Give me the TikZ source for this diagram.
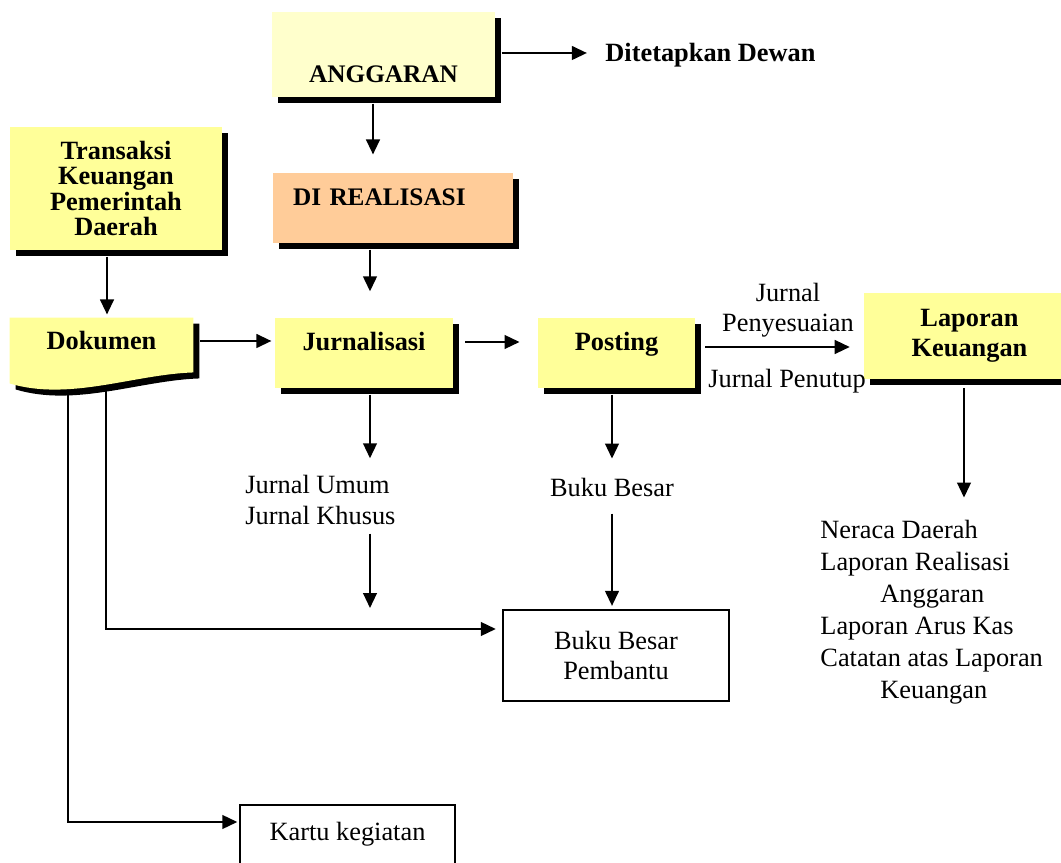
\documentclass[tikz,border=0pt]{standalone}
\usepackage{fontspec}
\setmainfont{Liberation Serif}
\usepackage{tikz}
\usetikzlibrary{arrows.meta, shadows, backgrounds}

\definecolor{boxyellow}{HTML}{FFFF99}
\definecolor{paleyellow}{HTML}{FFFFCC}
\definecolor{peach}{HTML}{FFCC99}

\begin{document}
\begin{tikzpicture}[
    x=0.016cm, y=-0.016cm,
    every node/.style={font=\fontsize{12}{13.8}\selectfont},
    box/.style={
        fill=boxyellow,
        align=center,
        inner sep=0pt,
        font=\fontsize{12}{13.8}\selectfont\bfseries,
        drop shadow={shadow xshift=0.096cm, shadow yshift=-0.096cm, fill=black, opacity=1}
    },
    plainbox/.style={
        draw=black,
        line width=0.8pt,
        fill=white,
        align=center,
        inner sep=0pt
    },
    note/.style={
        inner sep=0pt,
        align=left
    },
    lifted/.style={
        text height=0.3cm,
        text depth=#1
    },
    arrow/.style={
        -{Triangle[length=0.24cm, width=0.22cm]},
        line width=0.9pt
    }
]
\path[use as bounding box, clip] (0,0) rectangle (1061,863);

% Nodes
\node[box, fill=paleyellow, minimum width=3.57cm, minimum height=1.36cm,
      font=\fontsize{11.5}{13}\selectfont\bfseries,
      text height=0.91cm, text depth=0pt] (anggaran) at (383.5,54.5) {ANGGARAN};
\node[note, anchor=west, font=\fontsize{12}{13.8}\selectfont\bfseries] (dewan) at (605,55) {Ditetapkan Dewan};
\node[box, fill=peach, minimum width=3.84cm, minimum height=1.12cm,
      font=\fontsize{11.5}{13}\selectfont\bfseries,
      text width=3.2cm, align=left, lifted=0.37cm] (realisasi) at (393,208) {DI REALISASI};
\node[box, minimum width=3.39cm, minimum height=1.97cm,
      font=\fontsize{12}{11.5}\selectfont\bfseries] (transaksi) at (116,188.5) {Transaksi\\Keuangan\\Pemerintah\\Daerah};
\node[note, align=center, minimum width=2.93cm, minimum height=0.864cm,
      font=\fontsize{12}{13.8}\selectfont\bfseries, lifted=0.17cm] (dokumen) at (101.5,345) {Dokumen};
\node[box, minimum width=2.85cm, minimum height=1.12cm, lifted=0.37cm] (jurnalisasi) at (364,353) {Jurnalisasi};
\node[box, minimum width=2.51cm, minimum height=1.12cm, lifted=0.37cm] (posting) at (616.5,353) {Posting};
\node[box, minimum width=3.38cm, minimum height=1.38cm,
      font=\fontsize{12}{13.5}\selectfont\bfseries] (laporan) at (969.5,336) {Laporan\\Keuangan};

\node[note, align=center] (penyesuaian) at (788,310) {Jurnal\\Penyesuaian};
\node[note] (penutup) at (787,381) {Jurnal Penutup};
\node[note, anchor=west] (jurnalumum) at (245,500) {Jurnal Umum\\Jurnal Khusus};
\node[note] (bukubesar) at (612,487) {Buku Besar};
\node[note, anchor=west, font=\fontsize{12}{14.6}\selectfont] (laporanlist) at (820,612)
    {Neraca Daerah\\Laporan Realisasi\\\hspace*{0.96cm}Anggaran\\Laporan Arus Kas\\Catatan atas Laporan\\\hspace*{0.96cm}Keuangan};

\node[plainbox, minimum width=3.62cm, minimum height=1.46cm] (pembantu) at (616,655.5) {Buku Besar\\Pembantu};
\node[plainbox, minimum width=3.44cm, minimum height=1.04cm, lifted=0.2cm] (kartu) at (347.5,837.5) {Kartu kegiatan};
\coordinate (umumend) at (370,608);

% Dokumen shape and its two lines
\begin{scope}[on background layer]
\draw[arrow, shorten >=0.1cm] (106,0 |- dokumen.south) |- ([shift={(0,-26.5)}]pembantu.west);
\draw[arrow, shorten >=0.03cm] (68,0 |- dokumen.south) |- ([shift={(0,-15.5)}]kartu.west);
\fill[black] ([shift={(6,6)}]dokumen.north west) -- ([shift={(6,6)}]dokumen.north east)
    -- ([shift={(6,6)}]dokumen.south east) .. controls +(-60,2) and +(60,18) .. ([shift={(6,17)}]dokumen.south west) -- cycle;
\fill[boxyellow] (dokumen.north west) -- (dokumen.north east)
    -- (dokumen.south east) .. controls +(-60,2) and +(60,18) .. ([shift={(0,11)}]dokumen.south west) -- cycle;
\end{scope}

% Paths
\draw[arrow, shorten <=0.1cm, shorten >=0.29cm] (anggaran.east |- 0,53) -- (dewan.west |- 0,53);
\draw[arrow, shorten <=0.1cm, shorten >=0.29cm] (373,0 |- anggaran.south) -- (373,0 |- realisasi.north);
\draw[arrow, shorten <=0.1cm, shorten >=0.42cm] (370,0 |- realisasi.south) -- (370,0 |- jurnalisasi.north);
\draw[arrow, shorten <=0.1cm, shorten >=0.05cm] (107,0 |- transaksi.south) -- (107,0 |- dokumen.north);
\draw[arrow, shorten <=0.11cm, shorten >=0.05cm] (dokumen.east |- 0,341) -- (jurnalisasi.west |- 0,341);
\draw[arrow, shorten <=0.19cm, shorten >=0.29cm] (jurnalisasi.east |- 0,342) -- (posting.west |- 0,342);
\draw[arrow, shorten <=0.16cm, shorten >=0.22cm] (posting.east |- 0,347) -- (laporan.west |- 0,347);
\draw[arrow, shorten <=0.1cm, shorten >=0.27cm] (370,0 |- jurnalisasi.south) -- (370,0 |- jurnalumum.north);
\draw[arrow, shorten <=0.14cm] (370,0 |- jurnalumum.south) -- (umumend);
\draw[arrow, shorten <=0.1cm, shorten >=0.3cm] (612,0 |- posting.south) -- (612,0 |- bukubesar.north);
\draw[arrow, shorten <=0.27cm, shorten >=0.05cm] (612,0 |- bukubesar.south) -- (612,0 |- pembantu.north);
\draw[arrow, shorten <=0.14cm, shorten >=0.35cm] (964,0 |- laporan.south) -- (964,0 |- laporanlist.north);

\end{tikzpicture}
\end{document}
